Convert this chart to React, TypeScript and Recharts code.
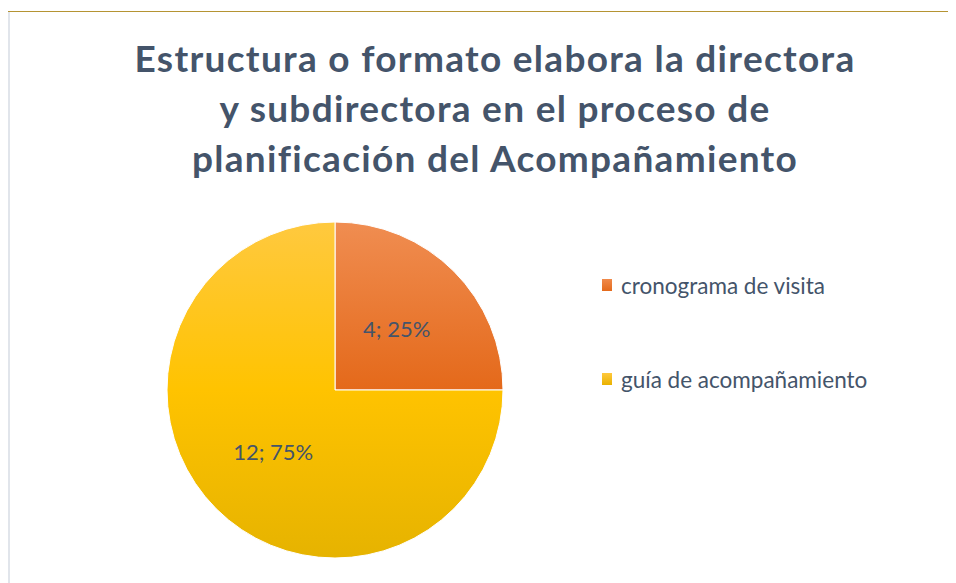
import { Pie, PieChart, Cell } from "recharts";

const categories = ["cronograma de visita", "guía de acompañamiento"];
const counts = [4, 12];
const percents = [25, 75];
const titleLines = [
  "Estructura o formato elabora la directora",
  "y subdirectora en el proceso de",
  "planificación del Acompañamiento",
];

const data = categories.map((name, i) => ({ name, value: counts[i], pct: percents[i] }));
const gradIds = ["grad-orange", "grad-yellow"];
const legendTop = ["#F08A4B", "#FFC83D"];
const legendBottom = ["#E46A1C", "#E9B200"];
const TEXT = "#44546A";
const FONT = "Lato, 'Open Sans', sans-serif";

const RADIAN = Math.PI / 180;

function renderLabel(props: any) {
  const { cx, cy, midAngle, outerRadius, index } = props;
  const r = outerRadius * 0.52;
  const x = cx + r * Math.cos(-midAngle * RADIAN);
  const y = cy + r * Math.sin(-midAngle * RADIAN);
  const d = data[index];
  return (
    <text
      x={x}
      y={y}
      fill={TEXT}
      fontSize={22}
      fontFamily={FONT}
      textAnchor="middle"
      dominantBaseline="central"
    >
      {`${d.value}; ${d.pct}%`}
    </text>
  );
}

function ChartLegend() {
  return (
    <div style={{ position: "absolute", left: 594, top: 265, fontFamily: FONT, fontSize: 22.5, color: TEXT }}>
      {data.map((d, i) => (
        <div
          key={d.name}
          style={{ display: "flex", alignItems: "center", height: 24, marginBottom: i === 0 ? 70 : 0, whiteSpace: "nowrap" }}
        >
          <div
            style={{
              width: 10,
              height: 12,
              marginRight: 9,
              background: `linear-gradient(${legendTop[i]}, ${legendBottom[i]})`,
            }}
          />
          <span>{d.name}</span>
        </div>
      ))}
    </div>
  );
}

export default function App() {
  return (
    <div style={{ position: "relative", width: 948, height: 575, background: "#fff" }}>
      <div
        style={{
          position: "absolute",
          top: 3,
          left: 0,
          width: 948,
          borderTop: "1.5px solid #B59433",
        }}
      />
      <div
        style={{
          position: "absolute",
          top: 4,
          left: 0,
          width: 2,
          height: 571,
          background: "#E1E5EB",
        }}
      />
      <div
        style={{
          position: "absolute",
          top: 25,
          left: 87,
          width: 800,
          textAlign: "center",
          fontFamily: FONT,
          fontWeight: 700,
          fontSize: 37,
          letterSpacing: 1.3,
          lineHeight: "50px",
          color: TEXT,
        }}
      >
        {titleLines.map((t) => (
          <div key={t}>{t}</div>
        ))}
      </div>
      <PieChart
        width={948}
        height={575}
        margin={{ top: 0, right: 0, bottom: 0, left: 0 }}
        style={{ position: "absolute", top: 0, left: 0 }}
      >
        <defs>
          <linearGradient id={gradIds[0]} x1="0" y1="0" x2="0" y2="1">
            <stop offset="0%" stopColor="#F08D51" />
            <stop offset="100%" stopColor="#E4691A" />
          </linearGradient>
          <linearGradient id={gradIds[1]} x1="0" y1="0" x2="0" y2="1">
            <stop offset="0%" stopColor="#FFC93F" />
            <stop offset="50%" stopColor="#FFC300" />
            <stop offset="100%" stopColor="#E6B300" />
          </linearGradient>
        </defs>
        <Pie
          data={data}
          dataKey="value"
          nameKey="name"
          cx={327}
          cy={382}
          outerRadius={168}
          startAngle={90}
          endAngle={-270}
          stroke="#ffffff"
          strokeWidth={1}
          label={renderLabel}
          labelLine={false}
          isAnimationActive={false}
        >
          {data.map((d, i) => (
            <Cell key={d.name} fill={`url(#${gradIds[i]})`} />
          ))}
        </Pie>
      </PieChart>
      <ChartLegend />
    </div>
  );
}
